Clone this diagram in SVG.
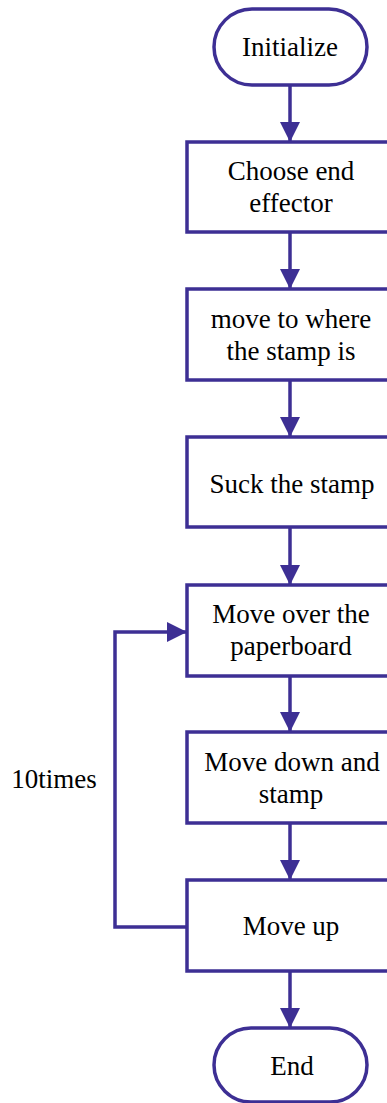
<svg xmlns="http://www.w3.org/2000/svg" width="387" height="1103" viewBox="0 0 387 1103">
<style>
.s{fill:#fff;stroke:#3d2f94;stroke-width:3.5}
.t{font-family:"Liberation Serif","Times New Roman",serif;font-size:27px;fill:#000;text-anchor:middle}
.c{fill:none;stroke:#3d2f94;stroke-width:3.5}
</style>
<defs>
<marker id="a" viewBox="0 0 20 20" refX="20" refY="10" markerWidth="20" markerHeight="20" markerUnits="userSpaceOnUse" orient="auto">
<path d="M0,0 L20,10 L0,20 Z" fill="#3d2f94"/>
</marker>
</defs>
<g id="connectors">
<line class="c" x1="290" y1="85" x2="290" y2="142" marker-end="url(#a)"/>
<line class="c" x1="290" y1="232" x2="290" y2="289" marker-end="url(#a)"/>
<line class="c" x1="290" y1="380" x2="290" y2="437" marker-end="url(#a)"/>
<line class="c" x1="290" y1="527" x2="290" y2="585" marker-end="url(#a)"/>
<line class="c" x1="290" y1="676" x2="290" y2="732" marker-end="url(#a)"/>
<line class="c" x1="290" y1="823" x2="290" y2="880" marker-end="url(#a)"/>
<line class="c" x1="290" y1="971" x2="290" y2="1028" marker-end="url(#a)"/>
<polyline class="c" points="187,927 115,927 115,632 187,632" marker-end="url(#a)"/>
</g>
<g id="n0"><rect class="s" x="214" y="9" width="153" height="76" rx="38"/><text class="t" x="290" y="56">Initialize</text></g>
<g id="n1"><rect class="s" x="187" y="142" width="210" height="90"/><text class="t" x="291" y="180">Choose end</text><text class="t" x="291" y="212">effector</text></g>
<g id="n2"><rect class="s" x="187" y="289" width="210" height="91"/><text class="t" x="291" y="328">move to where</text><text class="t" x="291" y="360">the stamp is</text></g>
<g id="n3"><rect class="s" x="187" y="437" width="210" height="90"/><text class="t" x="292" y="493">Suck the stamp</text></g>
<g id="n4"><rect class="s" x="187" y="585" width="210" height="91"/><text class="t" x="291" y="623">Move over the</text><text class="t" x="291" y="655">paperboard</text></g>
<g id="n5"><rect class="s" x="187" y="732" width="210" height="91"/><text class="t" x="292" y="771">Move down and</text><text class="t" x="291" y="803">stamp</text></g>
<g id="n6"><rect class="s" x="187" y="880" width="210" height="91"/><text class="t" x="291" y="935">Move up</text></g>
<g id="n7"><rect class="s" x="214" y="1028" width="153" height="74" rx="37"/><text class="t" x="292" y="1075">End</text></g>
<g id="lbl"><text class="t" x="54" y="788">10times</text></g>
</svg>
